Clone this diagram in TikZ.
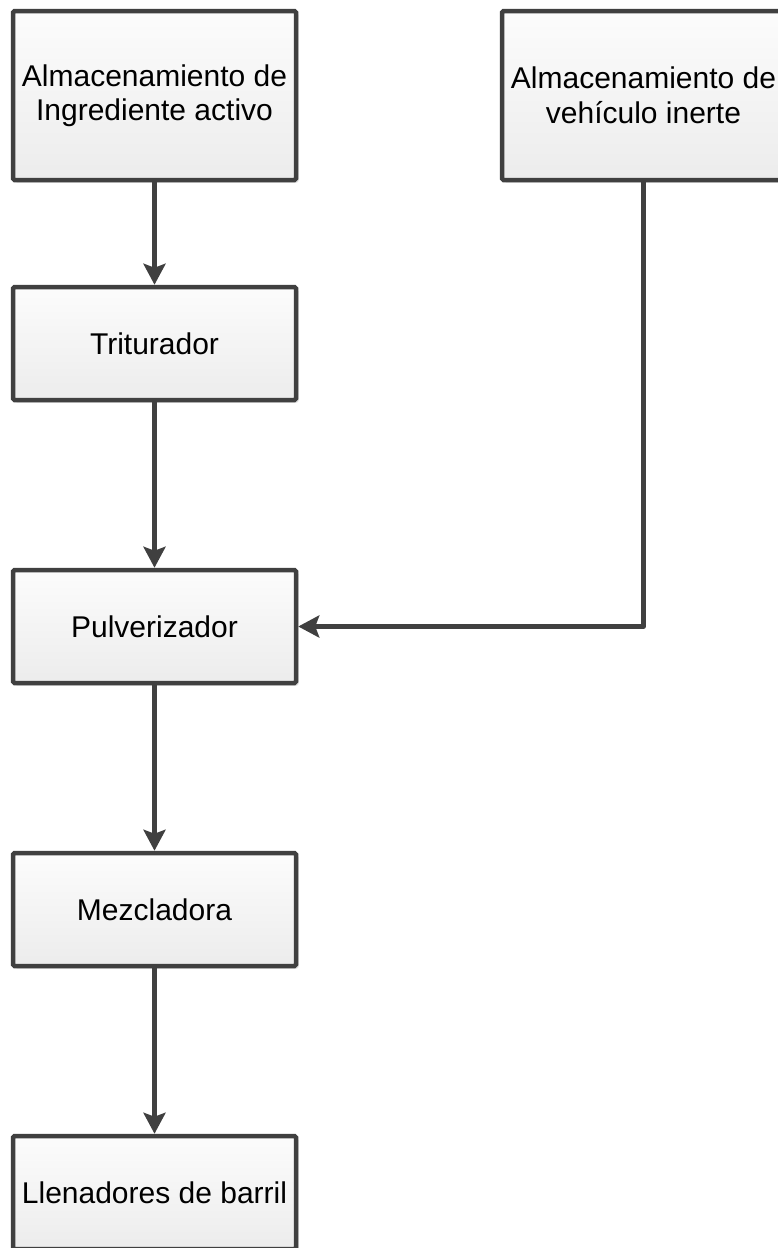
\documentclass[tikz,border=0pt]{standalone}
\usepackage{fontspec}
\setmainfont{Liberation Sans}
\usetikzlibrary{arrows.meta,shadows}
\definecolor{linec}{RGB}{64,64,64}
\definecolor{boxbot}{RGB}{236,236,236}
\definecolor{boxtop}{RGB}{252,252,252}
\tikzset{
  procbox/.style={draw=linec, line width=4.5pt, rounded corners=1.5pt,
    top color=boxtop, bottom color=boxbot,
    drop shadow={shadow xshift=2.5pt, shadow yshift=-2.5pt, fill=black, opacity=0.12},
    minimum width=283pt, inner sep=0pt, align=center,
    font=\fontsize{30}{34.5}\selectfont},
  conn/.style={draw=linec, line width=4.5pt, line join=round,
    -{Stealth[length=21pt,width=22pt,inset=4pt]}}
}
\begin{document}
\begin{tikzpicture}[x=1pt,y=-1pt]
\useasboundingbox (0,0) rectangle (778,1248);
\node[procbox, minimum height=169pt] (alm) at (154.5,95.5) {Almacenamiento de\\Ingrediente activo};
\node[procbox, minimum height=169pt] (veh) at (643.5,95.5) {Almacenamiento de\\vehículo inerte};
\node[procbox, minimum height=113pt] (tri) at (154.5,343.5) {Triturador};
\node[procbox, minimum height=113pt] (pul) at (154.5,626.5) {Pulverizador};
\node[procbox, minimum height=113pt] (mez) at (154.5,909.5) {Mezcladora};
\node[procbox, minimum height=113pt] (lle) at (154.5,1192.5) {Llenadores de barril};
\draw[conn] (alm) -- (tri);
\draw[conn] (tri) -- (pul);
\draw[conn] (veh.south) |- (pul.east);
\draw[conn] (pul) -- (mez);
\draw[conn] (mez) -- (lle);
\end{tikzpicture}
\end{document}
